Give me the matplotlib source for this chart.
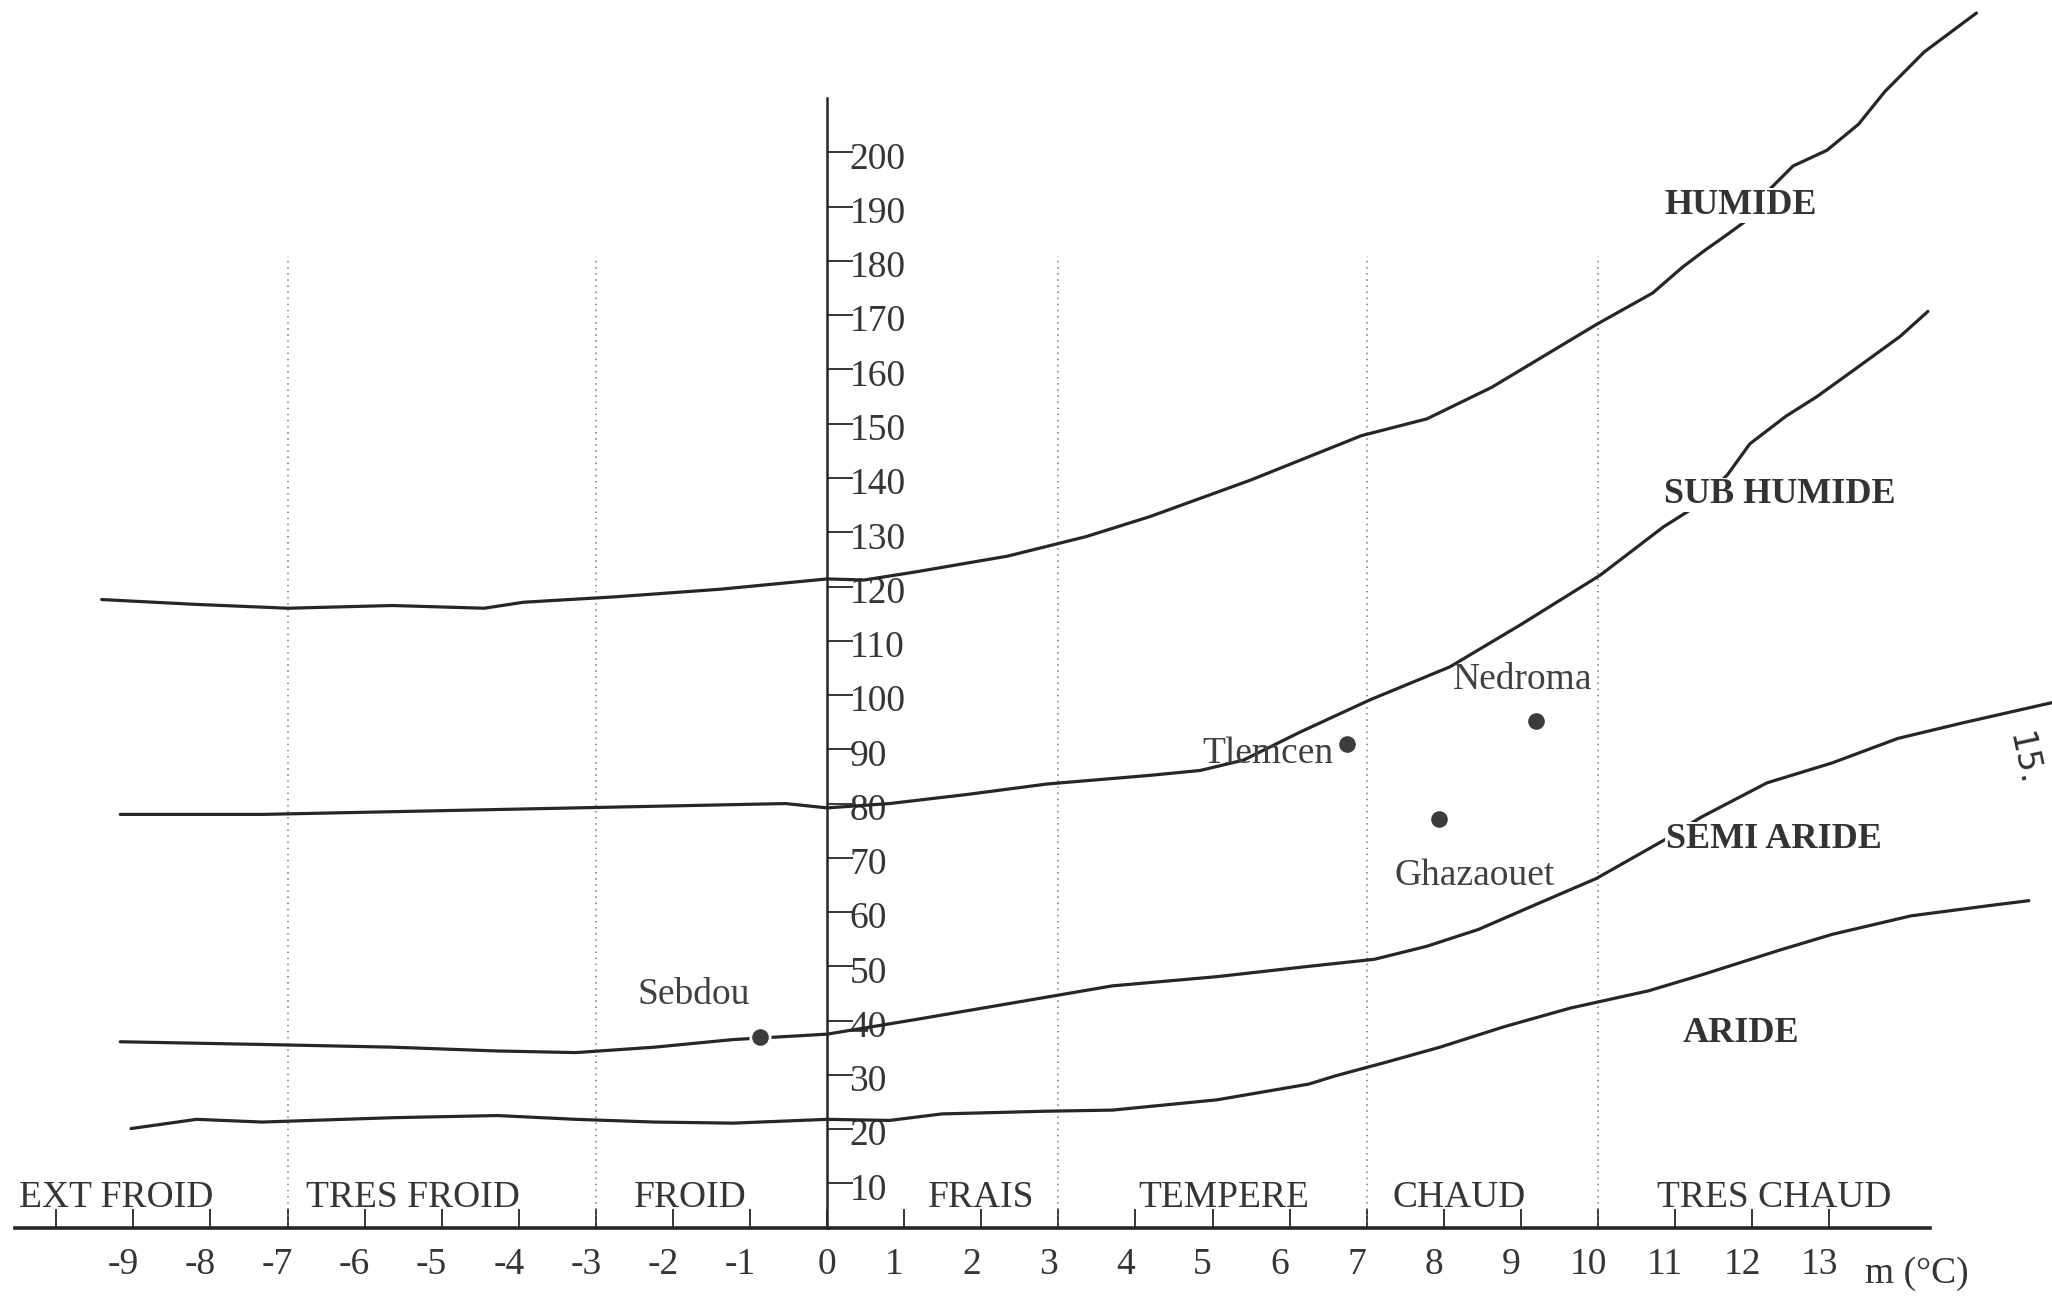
import matplotlib
matplotlib.use("Agg")
import matplotlib.pyplot as plt
import matplotlib.transforms as mtransforms

plt.rcParams['font.family'] = ['Liberation Serif', 'DejaVu Serif']

# limits between bioclimatic stages (m in degC, Q2)
humide_m = [-9.41, -8.18, -6.99, -5.64, -4.45, -3.94, -2.75, -1.39, 0, 0.48, 1.15, 2.34, 3.36,
            4.19, 5.49, 6.93, 7.78, 8.62, 9.98, 10.71, 11.10, 11.39, 11.63, 11.94, 12.22,
            12.53, 12.97, 13.38, 13.72, 14.23, 14.91]
humide_q = [117.6, 116.7, 116.0, 116.5, 116.0, 117.1, 118.1, 119.5, 121.4, 121.2, 122.7, 125.6, 129.2,
            132.9, 139.6, 147.8, 150.9, 156.7, 168.3, 174.1, 178.9, 182.0, 184.4, 187.6, 193.1,
            197.5, 200.4, 205.2, 211.2, 218.5, 225.7]

subhum_m = [-9.17, -7.33, -5.64, -3.94, -2.24, -0.54, 0, 0.81, 1.83, 2.85, 4.19, 4.84, 5.40,
            6.14, 7.04, 8.08, 8.99, 10.03, 10.85, 11.24, 11.68, 11.97, 12.44, 12.84, 13.31,
            13.92, 14.28]
subhum_q = [78.0, 78.0, 78.5, 79.0, 79.5, 80.0, 79.2, 80.0, 81.7, 83.6, 85.2, 86.1, 88.0,
            93.2, 99.1, 105.2, 112.9, 122.1, 131.0, 134.5, 140.6, 146.3, 151.4, 155.0, 159.8,
            166.1, 170.7]

semi_m = [-9.17, -7.33, -5.64, -4.28, -3.26, -2.24, -1.22, 0, 1.15, 2.51, 3.70, 5.06, 6.25,
          7.10, 7.78, 8.45, 9.13, 9.98, 10.85, 11.34, 12.19, 13.04, 13.89, 14.74, 15.89]
semi_q = [36.1, 35.6, 35.1, 34.4, 34.1, 35.1, 36.5, 37.5, 40.2, 43.5, 46.4, 48.1, 50.0,
          51.3, 53.7, 56.8, 61.0, 66.2, 73.2, 77.5, 83.8, 87.5, 92.0, 94.9, 98.6]

aride_m = [-9.03, -8.18, -7.33, -5.64, -4.28, -3.26, -2.24, -1.22, 0, 0.81, 1.49, 2.85, 3.70,
           5.06, 6.25, 6.59, 7.27, 7.95, 8.79, 9.64, 10.66, 11.34, 12.36, 13.04, 14.06,
           15.08, 15.59]
aride_q = [20.1, 21.8, 21.3, 22.1, 22.5, 21.8, 21.3, 21.1, 21.8, 21.6, 22.8, 23.3, 23.5,
           25.4, 28.3, 29.8, 32.4, 35.1, 38.9, 42.3, 45.5, 48.4, 53.0, 55.9, 59.3,
           61.2, 62.1]

stations = ['Sebdou', 'Tlemcen', 'Nedroma', 'Ghazaouet']
station_m = [-0.87, 6.75, 9.20, 7.94]
station_q = [37.0, 90.9, 95.2, 77.1]

stages = ['HUMIDE', 'SUB HUMIDE', 'SEMI ARIDE', 'ARIDE']
winter = ['EXT FROID', 'TRES FROID', 'FROID', 'FRAIS', 'TEMPERE', 'CHAUD', 'TRES CHAUD']
winter_limits = [-7, -3, 3, 7, 10]

x_ticks = list(range(-10, 14))
y_ticks = list(range(10, 201, 10))

ink = '#262626'
txt = '#353535'

fig = plt.figure(figsize=(20.52, 12.96), dpi=100)
ax = fig.add_axes([0, 0, 1, 1])
ax.set_xlim(-10.73, 15.89)
ax.set_ylim(-10.76, 228.1)

# axes drawn like the original: m axis at the bottom, Q2 axis through m = 0
base_q = 1.75
for s in ['left', 'top']:
    ax.spines[s].set_visible(False)
ax.spines['bottom'].set_position(('data', base_q))
ax.spines['bottom'].set_bounds(-10.53, 14.31)
ax.spines['bottom'].set_linewidth(2.6)
ax.spines['bottom'].set_color(ink)
ax.spines['right'].set_position(('data', 0))
ax.spines['right'].set_bounds(base_q, 210)
ax.spines['right'].set_linewidth(1.8)
ax.spines['right'].set_color(ink)

ax.set_xticks(x_ticks)
ax.set_xticklabels(['' if t == -10 else str(t) for t in x_ticks])
ax.tick_params(axis='x', direction='in', length=14, width=1.3, color=ink,
               labelsize=27, labelcolor=txt, pad=14)
ax.yaxis.set_ticks_position('right')
ax.set_yticks(y_ticks)
ax.set_yticklabels([str(t) for t in y_ticks])
ax.tick_params(axis='y', direction='out', length=19, width=1.3, color=ink,
               labelsize=27, labelcolor=txt, pad=-3)
for lab, t in zip(ax.get_xticklabels(), x_ticks):
    if t != 0:
        lab.set_transform(lab.get_transform() +
                          mtransforms.ScaledTranslation(-10 / 100, 0, fig.dpi_scale_trans))
for lab in ax.get_yticklabels():
    lab.set_transform(lab.get_transform() +
                      mtransforms.ScaledTranslation(0, -3 / 100, fig.dpi_scale_trans))

ax.vlines(winter_limits, base_q, 181, colors='#777777', linestyles=(0, (1, 3)), lw=1.1)

for xs, ys in [(humide_m, humide_q), (subhum_m, subhum_q), (semi_m, semi_q), (aride_m, aride_q)]:
    ax.plot(xs, ys, color=ink, lw=2.3, solid_capstyle='round', solid_joinstyle='round', zorder=3)

ax.plot(station_m, station_q, 'o', ms=14, mfc='#3c3c3c', mec='white', mew=2, zorder=5)
lab_pos = [(-1.73, 44.7), (5.72, 89.2), (9.02, 102.9), (8.40, 66.7)]
for name, (lx, ly) in zip(stations, lab_pos):
    ax.text(lx, ly, name, fontsize=27, color='#404040', ha='center', va='center', zorder=4)

stage_pos = [(11.85, 190.2), (12.36, 136.9), (12.28, 73.4), (11.85, 37.7)]
for name, (lx, ly) in zip(stages, stage_pos):
    ax.text(lx, ly, name, fontsize=26, fontweight='bold', color='#333333', ha='center',
            va='center', zorder=6,
            bbox=dict(facecolor='white', edgecolor='none', pad=0.5))

winter_pos = [-9.22, -5.37, -1.77, 2.0, 5.14, 8.2, 12.28]
for name, lx in zip(winter, winter_pos):
    ax.text(lx, 5.57, name, fontsize=27, color=txt, ha='center', va='baseline', zorder=4)

ax.text(13.46, -8.3, 'm (°C)', fontsize=27, color=txt, ha='left', va='baseline')
ax.text(15.52, 88.2, '15.', fontsize=24, color='#303030', rotation=-78,
        ha='center', va='center', family=['DejaVu Sans'])

fig.savefig('out.png', dpi=100, facecolor='white')
